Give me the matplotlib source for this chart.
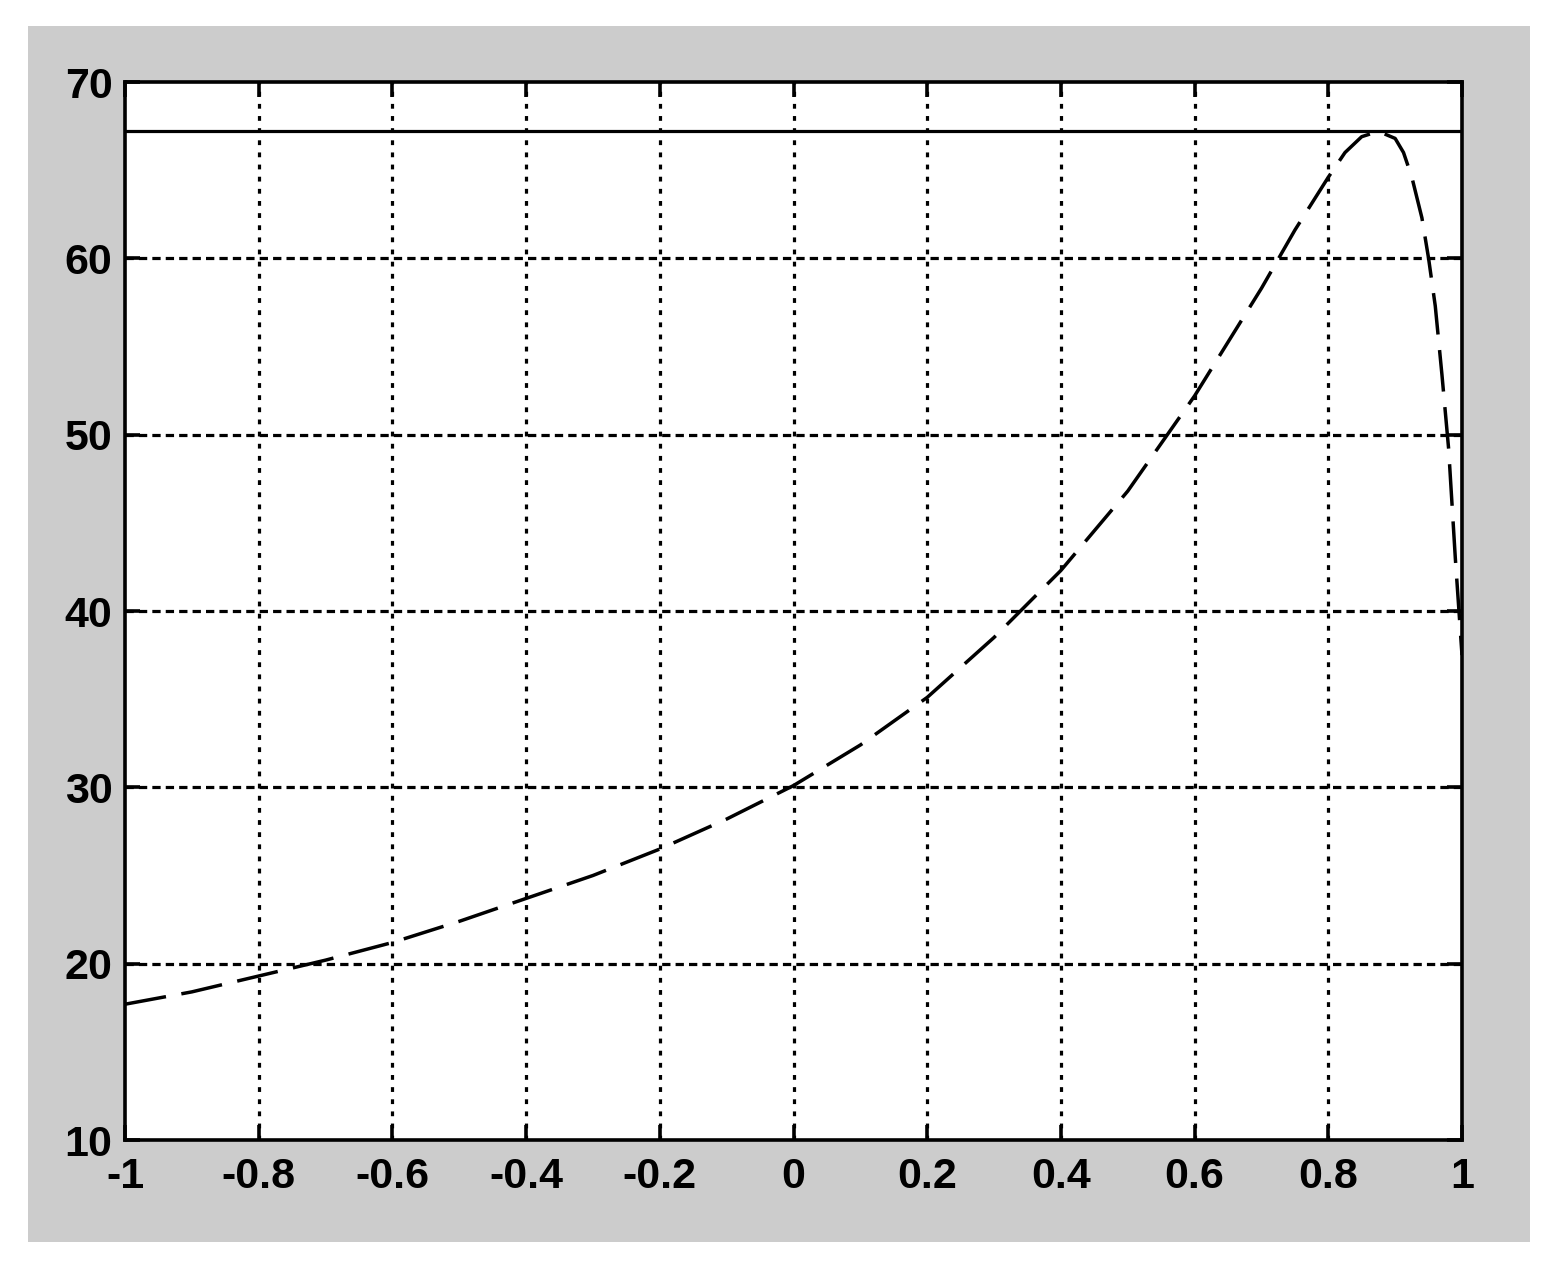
import matplotlib
matplotlib.use("Agg")
import matplotlib.pyplot as plt
from matplotlib.patches import Rectangle

# Data
x_vals = [-1.0, -0.9, -0.8, -0.7, -0.6, -0.5, -0.4, -0.3, -0.2, -0.1, 0.0,
          0.1, 0.2, 0.3, 0.4, 0.5, 0.6, 0.7, 0.75, 0.8, 0.825, 0.85, 0.875, 0.9,
          0.9125, 0.925, 0.94, 0.95, 0.96, 0.97, 0.98, 0.99, 1.0]
y_vals = [17.7, 18.4, 19.3, 20.2, 21.2, 22.4, 23.7, 25.0, 26.5, 28.2, 30.1,
          32.4, 35.1, 38.5, 42.3, 46.8, 52.2, 58.3, 61.6, 64.6, 66.0, 66.9, 67.2, 66.8,
          66.0, 64.6, 62.3, 60.0, 57.3, 53.4, 49.2, 43.0, 37.5]
max_level = 67.2
x_ticks = [-1, -0.8, -0.6, -0.4, -0.2, 0, 0.2, 0.4, 0.6, 0.8, 1]
x_labels = ["-1", "-0.8", "-0.6", "-0.4", "-0.2", "0", "0.2", "0.4", "0.6", "0.8", "1"]
y_ticks = [10, 20, 30, 40, 50, 60, 70]
y_labels = ["10", "20", "30", "40", "50", "60", "70"]

W, H = 1552, 1264
fig = plt.figure(figsize=(W / 100, H / 100), dpi=100)
fig.patch.set_facecolor("white")
fig.patches.append(Rectangle((28 / W, 1 - 1242 / H), (1530 - 28) / W, (1242 - 26) / H,
                             transform=fig.transFigure, facecolor="#cccccc",
                             edgecolor="none", zorder=-10))

ax = fig.add_axes([125 / W, 1 - 1140 / H, (1462 - 125) / W, (1140 - 82) / H])
ax.set_zorder(5)
ax.set_facecolor("white")

ax.plot(x_vals, y_vals, color="black", lw=2.5, linestyle=(0, (12, 4.5)), zorder=3)
ax.axhline(max_level, color="black", lw=2.3, zorder=3)

ax.set_xlim(-1, 1)
ax.set_ylim(10, 70)
ax.set_xticks(x_ticks)
ax.set_xticklabels(x_labels)
ax.set_yticks(y_ticks)
ax.set_yticklabels(y_labels)

ax.grid(True, axis="y", color="black", lw=2.3, linestyle=(0, (2.6, 1.6)))
ax.grid(True, axis="x", color="black", lw=2.3, linestyle=(0, (1.5, 2.3)))
xt = ax.xaxis.get_major_ticks()
xt[0].gridline.set_visible(False)
xt[-1].gridline.set_visible(False)
yt = ax.yaxis.get_major_ticks()
yt[0].gridline.set_visible(False)
yt[-1].gridline.set_visible(False)

for s in ax.spines.values():
    s.set_linewidth(2.6)
    s.set_color("black")

ax.tick_params(direction="in", length=11, width=2.6, top=True, right=True,
               labelsize=31)
ax.tick_params(axis="x", pad=12)
ax.tick_params(axis="y", pad=9)
for lab in ax.get_xticklabels() + ax.get_yticklabels():
    lab.set_fontfamily("Liberation Sans")
    lab.set_fontweight("bold")

fig.savefig("out.png", dpi=100, facecolor=fig.get_facecolor())
